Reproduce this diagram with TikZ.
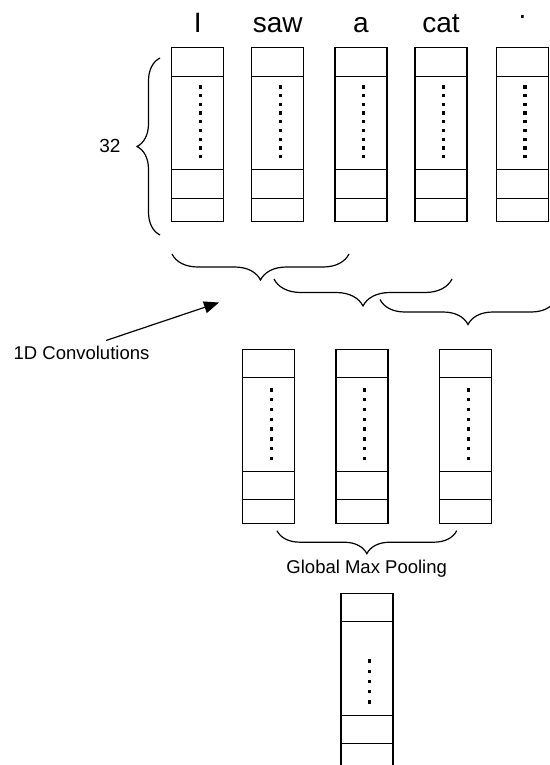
\documentclass[tikz,border=0pt]{standalone}
\usepackage{fontspec}
\setmainfont{Liberation Sans}
\usetikzlibrary{decorations.pathreplacing,arrows.meta}
\tikzset{
  cellbox/.style={draw=black,line width=1.3pt},
  brc/.style={draw=black,decorate,decoration={brace,mirror,amplitude=#1,aspect=0.5},line width=1.2pt},
  wordlbl/.style={font=\fontsize{28}{34}\selectfont,anchor=base,inner sep=0pt},
  smalllbl/.style={font=\fontsize{18.5}{22}\selectfont,inner sep=0pt},
  arrowline/.style={draw=black,line width=1.2pt,-{Triangle[length=15pt,width=12pt]}}
}
% column: #1 = left x, #2 = top y (pixels, downward), #3 = number of dots, #4 = first dot offset, #5 = dot spacing
\newcommand{\mycolumn}[5]{%
  \draw[cellbox] (#1,-#2) rectangle ({#1+52},{-#2-174});
  \draw[cellbox] (#1,{-#2-28.5}) -- ({#1+52},{-#2-28.5});
  \draw[cellbox] (#1,{-#2-122}) -- ({#1+52},{-#2-122});
  \draw[cellbox] (#1,{-#2-150.5}) -- ({#1+52},{-#2-150.5});
  \foreach \k in {1,...,#3}{
    \fill ({#1+28.5-1.7},{-#2-#4-(\k-1)*#5-1.7}) rectangle ++(3.4,3.4);
  }%
}
\begin{document}
\begin{tikzpicture}[x=1pt,y=1pt]
\useasboundingbox (0,0) rectangle (549,-765);
% top row
\mycolumn{171.7}{47.7}{9}{39.3}{8.7}
\mycolumn{251.7}{47.7}{9}{39.3}{8.7}
\mycolumn{335}{47.7}{9}{39.3}{8.7}
\mycolumn{415}{47.7}{9}{39.3}{8.7}
\mycolumn{496.5}{47.7}{9}{39.3}{8.7}
\node[wordlbl] (w1) at (197.7,-33) {I};
\node[wordlbl] (w2) at (277.7,-33) {saw};
\node[wordlbl] (w3) at (361,-33) {a};
\node[wordlbl] (w4) at (441,-33) {cat};
\node[wordlbl] (w5) at (522.5,-33) {\raisebox{14pt}{.}};
% left brace and 32
\coordinate (lbB) at (160,-235);
\coordinate (lbT) at (160,-58);
\draw[draw=black,decorate,decoration={brace,amplitude=23pt,aspect=0.5},line width=1.2pt] (lbB) -- (lbT);
\node[font=\fontsize{19}{22}\selectfont,inner sep=0pt] (dim) at (110,-145.5) {32};
% convolution braces
\coordinate (b1L) at (172,-254);
\coordinate (b1R) at (349,-254);
\coordinate (b2L) at (274,-279);
\coordinate (b2R) at (452,-279);
\coordinate (b3L) at (380,-299.5);
\coordinate (b3R) at (556,-299.5);
\draw[brc=26pt] (b1L) -- (b1R);
\draw[brc=27pt] (b2L) -- (b2R);
\draw[brc=25pt] (b3L) -- (b3R);
% 1D convolutions label and arrow
\node[smalllbl] (conv) at (81.5,-353) {1D Convolutions};
\coordinate (arrT) at (106,-340.5);
\coordinate (arrH) at (219,-302.5);
\draw[arrowline] (arrT) -- (arrH);
% middle row
\mycolumn{242.7}{349.3}{8}{40.7}{9.76}
\mycolumn{336}{349.3}{8}{40.7}{9.76}
\mycolumn{439.7}{349.3}{8}{40.7}{9.76}
% pooling brace
\coordinate (pL) at (277,-530.7);
\coordinate (pR) at (456.7,-530.7);
\draw[brc=23pt] (pL) -- (pR);
\node[smalllbl] (pool) at (366.7,-568.5) {Global Max Pooling};
% bottom column
\mycolumn{341}{593.3}{5}{67.7}{10.2}
\end{tikzpicture}
\end{document}
